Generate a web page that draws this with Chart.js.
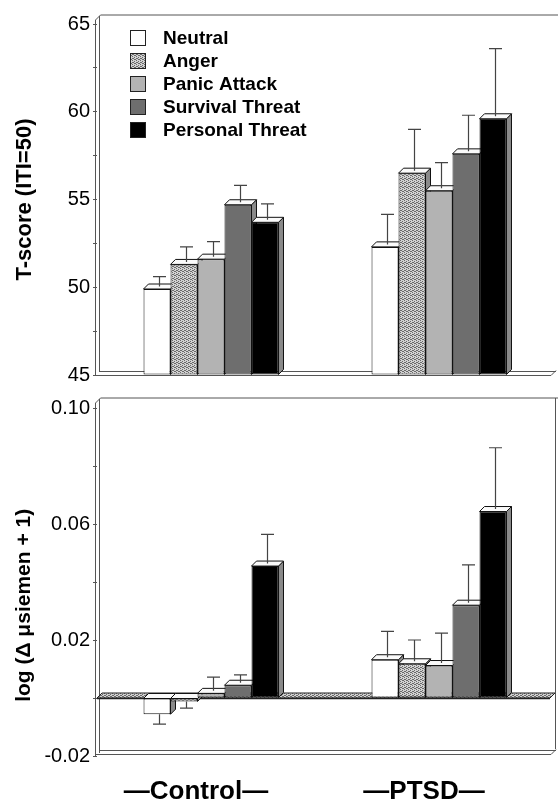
<!DOCTYPE html>
<html>
<head>
<meta charset="utf-8">
<script src="https://cdn.jsdelivr.net/npm/chart.js@4.4.1/dist/chart.umd.min.js"></script>
<style>
  html, body { margin: 0; padding: 0; background: #fff; }
  #wrap { position: relative; width: 558px; height: 803px; overflow: hidden; }
  #top { position: absolute; left: 0; top: 0; }
  #bottom { position: absolute; left: 0; top: 393px; }
</style>
</head>
<body>
<div id="wrap">
  <canvas id="top" width="558" height="393"></canvas>
  <canvas id="bottom" width="558" height="410"></canvas>
</div>
<script>
// ---------- data ----------
const categories = ['Control', 'PTSD'];
const conditions = ['Neutral', 'Anger', 'Panic Attack', 'Survival Threat', 'Personal Threat'];

// T-score (top panel)
const tNeutral  = [49.9, 52.3];
const tAnger    = [51.3, 56.5];
const tPanic    = [51.6, 55.5];
const tSurvival = [54.7, 57.6];
const tPersonal = [53.7, 59.6];
const tNeutralErr  = [0.7, 1.85];
const tAngerErr    = [1.0, 2.5];
const tPanicErr    = [1.0, 1.6];
const tSurvivalErr = [1.1, 2.2];
const tPersonalErr = [1.05, 4.0];
const tTicks = [45, 50, 55, 60, 65];

// log(Δ µsiemen + 1) (bottom panel)
const sNeutral  = [-0.0056, 0.0132];
const sAnger    = [-0.0012, 0.0118];
const sPanic    = [0.0016, 0.0112];
const sSurvival = [0.0044, 0.0320];
const sPersonal = [0.0455, 0.0643];
const sNeutralErr  = [0.0034, 0.0098];
const sAngerErr    = [0.0023, 0.0082];
const sPanicErr    = [0.0056, 0.0112];
const sSurvivalErr = [0.0036, 0.0139];
const sPersonalErr = [0.0109, 0.0220];
const sTicks = [-0.02, 0.02, 0.06, 0.10];

// ---------- styling helpers ----------
const FONT = '"Liberation Sans", Arial, Helvetica, sans-serif';
function stipple(ctx) {
  const c = document.createElement('canvas');
  c.width = 4; c.height = 4;
  const g = c.getContext('2d');
  g.fillStyle = '#d2d2d2'; g.fillRect(0, 0, 4, 4);
  g.fillStyle = '#6a6a6a';
  [[0,0],[2,1],[1,2],[3,3],[2,3],[0,2]].forEach(p => g.fillRect(p[0], p[1], 1, 1));
  return ctx.createPattern(c, 'repeat');
}
const DEPTH = 5;

const deco = {
  id: 'deco',
  beforeDatasetsDraw(chart, args, opts) {
    const ctx = chart.ctx, a = chart.chartArea;
    ctx.save();
    ctx.strokeStyle = '#555';
    ctx.lineWidth = 1;
    // left wall (double line with slanted top)
    const L = a.left, T = opts.wallTop, B = a.bottom;
    ctx.beginPath();
    ctx.moveTo(L - 1.5, B + 1); ctx.lineTo(L - 1.5, T + DEPTH);
    ctx.lineTo(L + 3.5, T); ctx.lineTo(chart.width, T);
    ctx.moveTo(L + 2.5, B - 3); ctx.lineTo(L + 2.5, T + 1);
    ctx.stroke();
    if (opts.rightWall) {
      ctx.beginPath();
      ctx.moveTo(a.right + 2.5, T); ctx.lineTo(a.right + 2.5, opts.floorY - DEPTH);
      ctx.stroke();
    }
    // floor
    const fy = opts.floorY;
    ctx.beginPath();
    ctx.moveTo(L - 1.5, fy + 0.5); ctx.lineTo(a.right - 2, fy + 0.5);
    ctx.lineTo(a.right + 3, fy - 4.5);
    ctx.moveTo(L + 2.5, fy - 3.5); ctx.lineTo(a.right + 3, fy - 3.5);
    ctx.stroke();
    // zero plane
    if (opts.zeroPlane) {
      const z = chart.scales.y.getPixelForValue(0);
      ctx.fillStyle = opts.pattern;
      ctx.beginPath();
      ctx.moveTo(L, z); ctx.lineTo(L + DEPTH, z - DEPTH);
      ctx.lineTo(a.right + 2, z - DEPTH); ctx.lineTo(a.right - 3, z); ctx.closePath();
      ctx.fill();
      ctx.strokeStyle = '#222';
      ctx.stroke();
      ctx.beginPath(); ctx.moveTo(L, z + 0.5); ctx.lineTo(a.right - 3, z + 0.5);
      ctx.lineWidth = 1.5; ctx.stroke();
      ctx.lineWidth = 1;
    }
    // 3D side and top faces
    const n = chart.data.labels.length;
    for (let c = 0; c < n; c++) {
      chart.data.datasets.forEach((ds, i) => {
        const el = chart.getDatasetMeta(i).data[c];
        const x1 = el.x - el.width / 2, x2 = el.x + el.width / 2;
        const yT = Math.max(a.top, Math.min(el.y, el.base));
        const yB = Math.min(a.bottom, Math.max(el.y, el.base));
        ctx.strokeStyle = '#111';
        ctx.fillStyle = '#8a8a8a';
        ctx.beginPath();
        ctx.moveTo(x2, yT); ctx.lineTo(x2 + DEPTH, yT - DEPTH);
        ctx.lineTo(x2 + DEPTH, yB - DEPTH); ctx.lineTo(x2, yB); ctx.closePath();
        ctx.fill(); ctx.stroke();
        ctx.fillStyle = '#fafafa';
        ctx.beginPath();
        ctx.moveTo(x1, yT); ctx.lineTo(x1 + DEPTH, yT - DEPTH);
        ctx.lineTo(x2 + DEPTH, yT - DEPTH); ctx.lineTo(x2, yT); ctx.closePath();
        ctx.fill(); ctx.stroke();
      });
    }
    ctx.restore();
  },
  afterDatasetsDraw(chart, args, opts) {
    const ctx = chart.ctx, y = chart.scales.y;
    ctx.save();
    ctx.strokeStyle = '#444';
    ctx.lineWidth = 1.2;
    chart.data.datasets.forEach((ds, i) => {
      const meta = chart.getDatasetMeta(i);
      meta.data.forEach((el, c) => {
        const v = ds.data[c], e = opts.errors[i][c];
        const x = Math.round(el.x + 2) + 0.5;
        let y0, y1;
        if (el.y <= el.base) { y0 = el.y - DEPTH / 2; y1 = y.getPixelForValue(v + e); }
        else { y0 = el.y; y1 = y.getPixelForValue(v - e); }
        ctx.beginPath();
        ctx.moveTo(x, y0); ctx.lineTo(x, y1);
        ctx.moveTo(x - 6.5, y1); ctx.lineTo(x + 6.5, y1);
        ctx.stroke();
      });
    });
    ctx.restore();
  },
  afterDraw(chart, args, opts) {
    if (!opts.legend) return;
    const ctx = chart.ctx;
    ctx.save();
    ctx.font = 'bold 19px ' + FONT;
    ctx.textBaseline = 'middle';
    chart.data.datasets.forEach((ds, i) => {
      const cy = 38 + i * 23;
      ctx.fillStyle = ds.backgroundColor;
      ctx.fillRect(130.5, cy - 7.5, 15, 15);
      ctx.strokeStyle = '#222'; ctx.lineWidth = 1;
      ctx.strokeRect(130.5, cy - 7.5, 15, 15);
      ctx.fillStyle = '#000';
      ctx.fillText(ds.label, 163, cy + 1);
    });
    ctx.restore();
  }
};

function buildDatasets(ctx, series, base) {
  const pat = stipple(ctx);
  const colors = ['#ffffff', pat, '#b3b3b3', '#6e6e6e', '#000000'];
  return series.map((d, i) => {
    const ds = {
      label: conditions[i],
      data: d,
      backgroundColor: colors[i],
      borderColor: '#111',
      borderWidth: 1,
      borderSkipped: false,
      categoryPercentage: 0.592,
      barPercentage: 1.0
    };
    if (base !== undefined) ds.base = base;
    return ds;
  });
}

Chart.defaults.font.family = FONT;
Chart.defaults.color = '#000';

// ---------- top chart ----------
const topCtx = document.getElementById('top').getContext('2d');
new Chart(topCtx, {
  type: 'bar',
  data: {
    labels: categories,
    datasets: buildDatasets(topCtx, [tNeutral, tAnger, tPanic, tSurvival, tPersonal], tTicks[0])
  },
  options: {
    responsive: false,
    animation: false,
    devicePixelRatio: 1,
    layout: { padding: { top: 24, bottom: 18, left: 0, right: 5 } },
    scales: {
      x: { display: false },
      y: {
        min: 45, max: 65,
        afterFit(s) { s.width = 97; },
        afterBuildTicks(s) {
          s.ticks = [];
          for (let v = 45; v <= 65; v += 2.5) s.ticks.push({ value: v });
        },
        ticks: {
          font: { size: 20 }, color: '#000', padding: 3,
          callback: v => (tTicks.includes(v) ? String(v) : '')
        },
        grid: { drawOnChartArea: false, drawTicks: true, tickLength: 4, color: '#555' },
        border: { display: false },
        title: {
          display: true, text: 'T-score (ITI=50)',
          font: { size: 22, weight: 'bold' }, color: '#000',
          padding: { top: 12, bottom: 0 }
        }
      }
    },
    plugins: {
      legend: { display: false },
      tooltip: { enabled: false },
      deco: {
        wallTop: 15, floorY: 375, rightWall: false, zeroPlane: false, legend: true,
        errors: [tNeutralErr, tAngerErr, tPanicErr, tSurvivalErr, tPersonalErr]
      }
    }
  },
  plugins: [deco]
});

// ---------- bottom chart ----------
const botCtx = document.getElementById('bottom').getContext('2d');
new Chart(botCtx, {
  type: 'bar',
  data: {
    labels: categories.map(c => '\u2014' + c + '\u2014'),
    datasets: buildDatasets(botCtx, [sNeutral, sAnger, sPanic, sSurvival, sPersonal])
  },
  options: {
    responsive: false,
    animation: false,
    devicePixelRatio: 1,
    layout: { padding: { top: 13, bottom: 0, left: 0, right: 5 } },
    scales: {
      x: {
        afterFit(s) { s.height = 47; },
        grid: { display: false },
        border: { display: false },
        ticks: { font: { size: 26, weight: 'bold' }, color: '#000', padding: 12, labelOffset: -15, maxRotation: 0 }
      },
      y: {
        min: -0.02, max: 0.10,
        afterFit(s) { s.width = 97; },
        afterBuildTicks(s) {
          s.ticks = [];
          for (let k = -2; k <= 10; k += 2) s.ticks.push({ value: k / 100 });
        },
        ticks: {
          font: { size: 20 }, color: '#000', padding: 3,
          callback: v => {
            const k = Math.round(v * 100);
            return sTicks.some(t => Math.round(t * 100) === k) ? (v).toFixed(2) : '';
          }
        },
        grid: { drawOnChartArea: false, drawTicks: true, tickLength: 4, color: '#555' },
        border: { display: false },
        title: {
          display: true, text: 'log (\u0394 \u03bcsiemen + 1)\u00a0\u00a0\u00a0\u00a0\u00a0\u00a0\u00a0\u00a0',
          font: { size: 21, weight: 'bold' }, color: '#000',
          padding: { top: 12, bottom: 0 }
        }
      }
    },
    plugins: {
      legend: { display: false },
      tooltip: { enabled: false },
      deco: {
        wallTop: 5, floorY: 361, rightWall: true, zeroPlane: true, legend: false,
        pattern: stipple(botCtx),
        errors: [sNeutralErr, sAngerErr, sPanicErr, sSurvivalErr, sPersonalErr]
      }
    }
  },
  plugins: [deco]
});
</script>
</body>
</html>
